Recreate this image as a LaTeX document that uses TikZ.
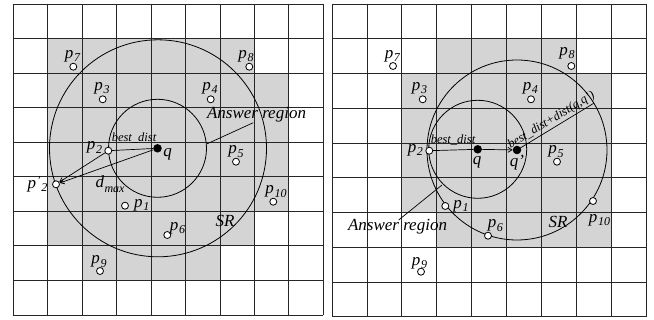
\documentclass[tikz,border=0pt]{standalone}
\usepackage{fontspec}
\setmainfont{Liberation Serif}
\usetikzlibrary{arrows.meta}
\definecolor{cellgray}{RGB}{212,212,212}
\newcommand\pn[2][]{p#1\kern0.6pt{\fontsize{12}{12}\selectfont\raisebox{-3.5pt}{#2}}}
\begin{document}
\begin{tikzpicture}[x=1pt,y=-1pt,
  font=\fontsize{17}{19}\selectfont\itshape,
  gridline/.style={line width=0.8pt,black!85},
  ring/.style={line width=0.8pt},
  link/.style={line width=0.7pt},
  tip/.style={-{Straight Barb[length=4pt,width=5pt]}},
  pt/.style={circle,draw,fill=white,line width=0.8pt,minimum size=7pt,inner sep=0pt},
  qpt/.style={circle,fill=black,minimum size=8.5pt,inner sep=0pt},
  lbl/.style={inner sep=0pt},
  small/.style={inner sep=0pt,font=\fontsize{12.5}{14}\selectfont\itshape}]
\useasboundingbox (0,0) rectangle (654,320);
% ---------- shaded cells ----------
\foreach \r/\a/\b in {1/1/6,2/1/7,3/1/7,4/1/7,5/1/7,6/1/6,7/2/5}
  \foreach \c in {\a,...,\b}
    \fill[cellgray] ({13.3+\c*34.44},{4+\r*34.55}) rectangle ++(34.44,34.55);
\foreach \r/\a/\b in {1/3/6,2/2/7,3/2/7,4/2/7,5/2/7,6/3/7}
  \foreach \c in {\a,...,\b}
    \fill[cellgray] ({332+\c*34.92},{4+\r*34.74}) rectangle ++(34.92,34.74);
% ---------- grids ----------
\foreach \k in {0,...,9} {
  \draw[gridline] ({13.3+\k*34.44},4) -- ++(0,310.95);
  \draw[gridline] (13.3,{4+\k*34.55}) -- ++(309.96,0);
  \draw[gridline] ({332+\k*34.92},4) -- ++(0,312.66);
  \draw[gridline] (332,{4+\k*34.74}) -- ++(314.28,0);
}
% ---------- left panel ----------
\node[qpt] (Lq) at (157.5,148.3) {};
\draw[ring] (Lq.center) circle[radius=49pt];
\draw[ring] (158,148.3) circle[radius=108.5pt];
\node[pt] (Lp7) at (73.3,66.7) {};
\node[pt] (Lp8) at (249.3,66.7) {};
\node[pt] (Lp3) at (102.7,99.3) {};
\node[pt] (Lp4) at (210.7,99.3) {};
\node[pt] (Lp2) at (108.3,150.7) {};
\node[pt] (Lp5) at (236,161.7) {};
\node[pt] (Lpp2) at (56,184.3) {};
\node[pt] (Lp10) at (273.3,201.7) {};
\node[pt] (Lp1) at (125,205.7) {};
\node[pt] (Lp6) at (167.3,235) {};
\node[pt] (Lp9) at (100,271) {};
\draw[link] (Lp2) -- (Lq);
\draw[link,tip] (Lp2) -- (Lpp2);
\draw[link,tip] (Lq) -- (Lpp2);
\coordinate (La) at (206.7,144);
\node[lbl] (Lans) at (256.5,115) {Answer region};
\draw[link] (La) -- (253.3,122.7);
\node[lbl] (Lp7l) at (72.5,56) {\pn{7}};
\node[lbl] (Lp8l) at (246,56) {\pn{8}};
\node[lbl] (Lp3l) at (102,88) {\pn{3}};
\node[lbl] (Lp4l) at (210,88) {\pn{4}};
\node[lbl] (Lp2l) at (94.5,147.5) {\pn{2}};
\node[lbl] (Lql) at (167.5,154) {q};
\node[lbl] (Lp5l) at (236,151.7) {\pn{5}};
\node[lbl] (Lpp2l) at (37.5,184) {\pn[\kern0.5pt\raisebox{4pt}{\fontsize{12}{12}\selectfont'}]{2}};
\node[lbl] (Lp10l) at (276,191.7) {\pn{10}};
\node[lbl] (Lp1l) at (141.7,205) {\pn{1}};
\node[lbl] (Lp6l) at (177.5,228) {\pn{6}};
\node[lbl] (Lp9l) at (99,261.7) {\pn{9}};
\node[small] (Lbd) at (134,137.5) {best\_dist};
\node[lbl] (Ldm) at (110,184) {d\kern0.5pt{\fontsize{12}{12}\selectfont\raisebox{-5pt}{max}}};
\node[lbl] (LSR) at (225,221) {SR};
% ---------- right panel ----------
\node[qpt] (Rq) at (477.7,149.3) {};
\node[qpt] (Rqq) at (517,150) {};
\draw[ring] (Rq.center) circle[radius=49pt];
\draw[ring] (Rqq.center) circle[radius=90pt];
\node[pt] (Rp7) at (393,66) {};
\node[pt] (Rp8) at (571.3,66) {};
\node[pt] (Rp3) at (422.7,99.3) {};
\node[pt] (Rp4) at (531,99.3) {};
\node[pt] (Rp2) at (429.3,150.7) {};
\node[pt] (Rp5) at (557,161.7) {};
\node[pt] (Rp1) at (445.3,206) {};
\node[pt] (Rp10) at (593,201) {};
\node[pt] (Rp6) at (488,235.7) {};
\node[pt] (Rp9) at (421,271.7) {};
\draw[link] (Rp2) -- (Rq);
\draw[link,tip] (Rq) -- (Rqq);
\coordinate (Rr) at (593.7,103.3);
\draw[link] (Rqq.center) -- (Rr);
\node[small,rotate=31.3,anchor=south,inner sep=1.5pt] (Rbdd) at (555.3,126.7) {best\_dist+dist(q,q')};
\coordinate (Ra) at (442,185);
\node[lbl] (Rans) at (397.5,227) {Answer region};
\draw[link] (Ra) -- (398.7,220);
\node[lbl] (Rp7l) at (392.3,56) {\pn{7}};
\node[lbl] (Rp8l) at (567,53.3) {\pn{8}};
\node[lbl] (Rp3l) at (419.5,88) {\pn{3}};
\node[lbl] (Rp4l) at (530.3,88) {\pn{4}};
\node[lbl] (Rp2l) at (415.3,150) {\pn{2}};
\node[lbl] (Rql) at (477,162.5) {q};
\node[lbl] (Rqql) at (517,163) {q'};
\node[lbl] (Rp5l) at (556,151.7) {\pn{5}};
\node[lbl] (Rp1l) at (461,206.3) {\pn{1}};
\node[lbl] (Rp10l) at (599.5,220) {\pn{10}};
\node[lbl] (Rp6l) at (495.3,225.8) {\pn{6}};
\node[lbl] (Rp9l) at (419.5,263) {\pn{9}};
\node[small] (Rbd) at (453,140) {best\_dist};
\node[lbl] (RSR) at (558,221.7) {SR};
\end{tikzpicture}
\end{document}
